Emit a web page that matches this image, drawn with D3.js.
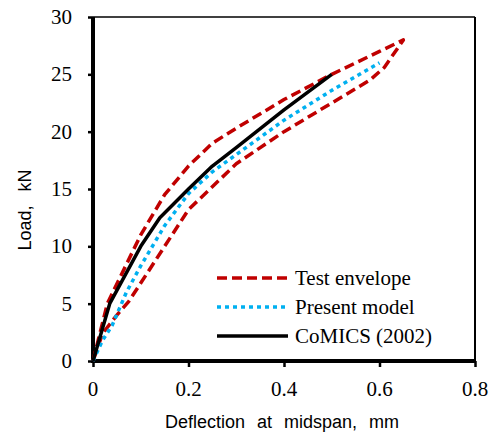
<!DOCTYPE html>
<html>
<head>
<meta charset="utf-8">
<script src="https://cdn.jsdelivr.net/npm/d3@7"></script>
<style>
  html, body { margin: 0; padding: 0; background: #fff; }
  svg { display: block; }
  .serif { font-family: "Liberation Serif", "Times New Roman", serif; font-size: 21px; fill: #000; }
  .sans { font-family: "Liberation Sans", Arial, sans-serif; font-size: 18px; fill: #000; }
</style>
</head>
<body>
<svg id="chart" width="493" height="434"></svg>
<script>
// ---- data ----
const seriesNames = ["Test envelope", "Present model", "CoMICS (2002)"];
// Test envelope: upper branch up to peak, then lower branch back to origin
const envelopeDefl = [0, 0.03, 0.1, 0.15, 0.2, 0.25, 0.3, 0.4, 0.5, 0.6, 0.65,
                      0.61, 0.58, 0.5, 0.4, 0.3, 0.2, 0.15, 0.1, 0.075, 0.05, 0.02, 0];
const envelopeLoad = [0, 5, 11, 14.5, 17, 19, 20.3, 22.8, 25, 27, 28,
                      25.6, 24.5, 22.5, 20, 17.2, 13.2, 10, 6.8, 5.2, 4, 2.4, 0];
const modelDefl = [0, 0.02, 0.04, 0.07, 0.1, 0.15, 0.2, 0.25, 0.3, 0.4, 0.5, 0.6];
const modelLoad = [0, 1.8, 3.1, 6, 8.3, 11.8, 14.6, 16.5, 18, 21, 23.6, 26];
const comicsDefl = [0, 0.035, 0.1, 0.14, 0.2, 0.25, 0.3, 0.4, 0.5];
const comicsLoad = [0, 5, 10, 12.5, 15, 17, 18.6, 21.9, 25];
const xTicks = [0, 0.2, 0.4, 0.6, 0.8];
const xTickLabels = ["0", "0.2", "0.4", "0.6", "0.8"];
const yTicks = [0, 5, 10, 15, 20, 25, 30];
const yTickLabels = ["0", "5", "10", "15", "20", "25", "30"];
const xTitle = "Deflection at midspan, mm";
const yTitle = "Load, kN";

// ---- layout ----
const svg = d3.select("#chart");
const X0 = 93, X1 = 475, Y0 = 361, Y1 = 17;
const x = d3.scaleLinear().domain([0, 0.8]).range([X0, X1]);
const y = d3.scaleLinear().domain([0, 30]).range([Y0, Y1]);

// frame top/right
svg.append("line").attr("x1", X0).attr("x2", X1).attr("y1", Y1).attr("y2", Y1)
  .attr("stroke", "#000").attr("stroke-width", 1.5);
svg.append("line").attr("x1", X1).attr("x2", X1).attr("y1", Y1).attr("y2", Y0)
  .attr("stroke", "#000").attr("stroke-width", 2);

// axes (ticks via d3 axis, labels placed with the same scales)
const xAxis = d3.axisBottom(x).tickValues(xTicks).tickSize(6).tickFormat("");
const yAxis = d3.axisLeft(y).tickValues(yTicks).tickSize(5).tickFormat("");

const gx = svg.append("g").attr("transform", `translate(0,${Y0})`).call(xAxis);
gx.select(".domain").remove();
gx.selectAll(".tick line").attr("stroke", "#000").attr("stroke-width", 2.5);
gx.selectAll(".tick text").remove();

const gy = svg.append("g").attr("transform", `translate(${X0},0)`).call(yAxis);
gy.select(".domain").remove();
gy.selectAll(".tick line").attr("stroke", "#000").attr("stroke-width", 2.5);
gy.selectAll(".tick text").remove();

svg.append("g").selectAll("text").data(xTicks).join("text")
  .attr("class", "serif").attr("x", d => x(d)).attr("y", 396)
  .attr("text-anchor", "middle").text((d, i) => xTickLabels[i]);
svg.append("g").selectAll("text").data(yTicks).join("text")
  .attr("class", "serif").attr("x", 72).attr("y", d => y(d) + 7)
  .attr("text-anchor", "end").text((d, i) => yTickLabels[i]);

// thick axis lines
svg.append("line").attr("x1", X0).attr("x2", X0).attr("y1", Y1).attr("y2", Y0 + 2)
  .attr("stroke", "#000").attr("stroke-width", 4);
svg.append("line").attr("x1", X0 - 2).attr("x2", X1).attr("y1", Y0).attr("y2", Y0)
  .attr("stroke", "#000").attr("stroke-width", 4);

// titles
svg.append("text").attr("class", "sans").attr("x", (X0 + X1) / 2 - 2).attr("y", 428)
  .attr("text-anchor", "middle").style("word-spacing", "7px").text(xTitle);
svg.append("text").attr("class", "sans").attr("transform", "translate(31,210) rotate(-90)")
  .attr("text-anchor", "middle").style("word-spacing", "9px").text(yTitle);

// series
const styles = [
  { color: "#C00000", width: 3.5, dash: "10,5" },
  { color: "#00B0F0", width: 3.5, dash: "4,4" },
  { color: "#000000", width: 3.5, dash: null }
];
const datasets = [
  d3.zip(envelopeDefl, envelopeLoad),
  d3.zip(modelDefl, modelLoad),
  d3.zip(comicsDefl, comicsLoad)
];
const line = d3.line().x(d => x(d[0])).y(d => y(d[1]));
datasets.forEach((data, i) => {
  svg.append("path").datum(data).attr("d", line)
    .attr("fill", "none").attr("stroke", styles[i].color)
    .attr("stroke-width", styles[i].width)
    .attr("stroke-dasharray", styles[i].dash)
    .attr("stroke-linejoin", "round");
});

// legend
const legRows = [278, 307, 336];
seriesNames.forEach((name, i) => {
  svg.append("line").attr("x1", 217).attr("x2", 288)
    .attr("y1", legRows[i]).attr("y2", legRows[i])
    .attr("stroke", styles[i].color).attr("stroke-width", styles[i].width)
    .attr("stroke-dasharray", styles[i].dash);
  svg.append("text").attr("class", "serif").attr("x", 295).attr("y", legRows[i] + 7)
    .text(name);
});
</script>
</body>
</html>
